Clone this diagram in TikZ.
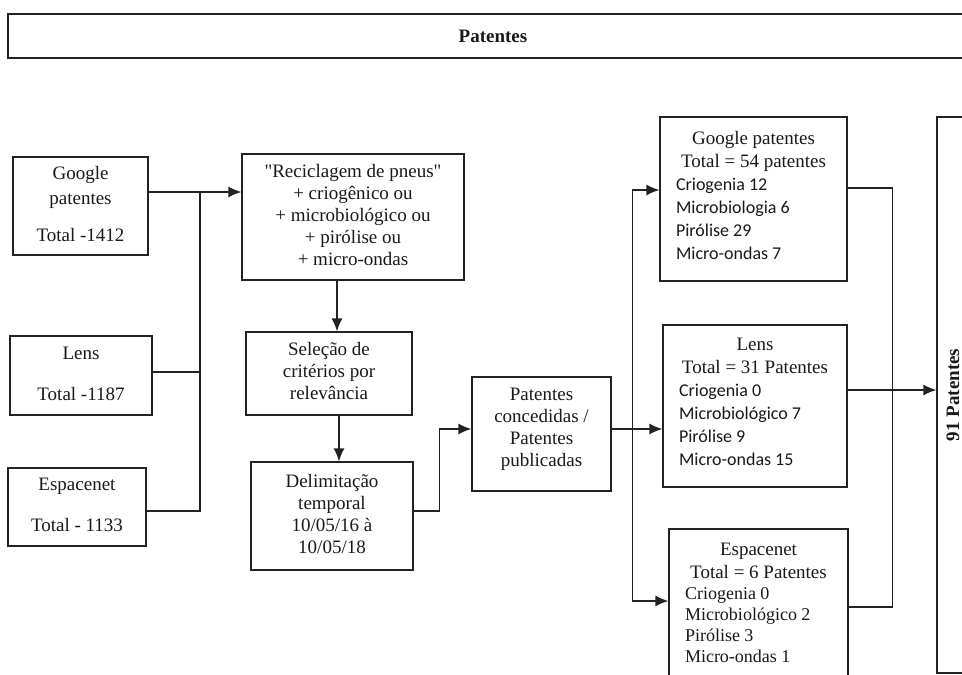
\documentclass[tikz,border=0pt]{standalone}
\usepackage{fontspec}
\setmainfont{Liberation Serif}[Ligatures=TeXOff]
\newfontfamily\calibri{Carlito}
\usepackage{graphicx}
\usepackage{tikz}
\usetikzlibrary{arrows.meta,positioning}
\usepackage{xcolor}
\definecolor{ptline}{RGB}{35,35,35}
\definecolor{pttext}{RGB}{25,25,25}
\setlength{\parindent}{0pt}
\setlength{\parskip}{0pt}
\newcommand{\fonteT}{\fontsize{19}{22}\selectfont}
\newcommand{\fonteL}{\fontsize{19}{23}\selectfont\spaceskip=0pt\xspaceskip=0pt}
\newcommand{\fonteC}{\calibri\fontsize{18}{23}\selectfont}
\newcommand{\desce}[1]{\rule[-#1]{0pt}{#1}}
\tikzstyle{arrow} = [line width=1.3pt, -{Latex[length=13pt,width=11pt]}, color=ptline]
\tikzstyle{line} = [line width=1.3pt, color=ptline]
\tikzstyle{caixa} = [rectangle, draw=ptline, line width=1.3pt, inner sep=0pt, text centered, text=pttext, font=\fonteT]
\tikzstyle{lista} = [caixa, inner xsep=16pt, inner ysep=0pt, align=left, font=\fonteL]

\begin{document}
\begin{tikzpicture}[x=1pt, y=-1pt]
\useasboundingbox (0,0) rectangle (962,675);
\clip (0,0) rectangle (962,675);

% Title bar
\node (titulo) [caixa, minimum width=970pt, minimum height=44pt, line width=1.6pt] at (493,36) {\textbf{Patentes}};

% Databases
\node (google) [caixa, minimum width=135pt, minimum height=98pt] at (80.5,206) {
\begin{tabular}{c}
Google\\[3pt]
patentes\\[15pt]
Total -1412
\end{tabular}
};

\node (lens) [caixa, minimum width=142pt, minimum height=79pt] at (81,375.5) {
\begin{tabular}{c}
Lens\\[19pt]
Total -1187
\end{tabular}
};

\node (espacenet) [caixa, minimum width=138pt, minimum height=78pt] at (77,507) {
\begin{tabular}{c}
Espacenet\\[19pt]
Total - 1133
\end{tabular}
};

% Search steps
\node (busca) [caixa, minimum width=222pt, minimum height=126pt] at (353,217) {
\begin{tabular}{c}
"Reciclagem de pneus"\\
+ criogênico ou\\
+ microbiológico ou\\
+ pirólise ou\\
+ micro-ondas
\end{tabular}
};

\node (selecao) [caixa, minimum width=166pt, minimum height=83pt] at (329,373.5) {
\begin{tabular}{c}
Seleção de\\
critérios por\\
relevância
\end{tabular}
};

\node (delim) [caixa, minimum width=162pt, minimum height=108pt] at (332,516) {
\begin{tabular}{c}
Delimitação\\
temporal\\
10/05/16 à\\
10/05/18
\end{tabular}
};

\node (concedidas) [caixa, minimum width=139pt, minimum height=114pt] at (541.5,434) {
\begin{tabular}{c}
Patentes\\
concedidas /\\
Patentes\\
publicadas\desce{16pt}
\end{tabular}
};

% Results per database
\node (googleR) [lista, text width=155pt, minimum height=164pt] at (753.5,199) {
\spaceskip=0pt\xspaceskip=0pt
{\centering Google patentes\\Total = 54 patentes\par}
\fonteC Criogenia 12\\Microbiologia 6\\Pirólise 29\\Micro-ondas 7\desce{8pt}
};

\node (lensR) [lista, text width=152pt, minimum height=162pt] at (755,406) {
\spaceskip=0pt\xspaceskip=0pt
{\centering Lens\\Total = 31 Patentes\par}
\fonteC Criogenia 0\\Microbiológico 7\\Pirólise 9\\Micro-ondas 15\desce{8pt}
};

\node (espacenetR) [lista, text width=147pt, minimum height=148pt] at (758.5,603) {
\spaceskip=0pt\xspaceskip=0pt
{\centering Espacenet\\Total = 6 Patentes\par}
\fontsize{18}{21}\selectfont Criogenia 0\\Microbiológico 2\\Pirólise 3\\Micro-ondas 1\par
};

\node (total) [caixa, minimum width=32pt, minimum height=556pt] at (953,395) {\rotatebox{90}{\textbf{91 Patentes}}};

% Databases to search string
\coordinate (bus) at (200,192);
\draw[arrow] ([yshift=14pt]google.east) -- ([yshift=14pt]google.east -| busca.west);
\draw[line] ([yshift=3.5pt]lens.east) -- ([yshift=3.5pt]lens.east -| bus);
\draw[line] ([yshift=-4pt]espacenet.east) -| (bus);

% Filtering steps
\draw[arrow] ([xshift=8pt]selecao.north |- busca.south) -- ([xshift=8pt]selecao.north);
\draw[arrow] ([xshift=7pt]delim.north |- selecao.south) -- ([xshift=7pt]delim.north);
\draw[arrow] ([yshift=5pt]delim.east) -- ++(26,0) |- ([yshift=5pt]concedidas.west);

% Split to results
\draw[arrow] ([yshift=5pt]concedidas.east) -- ([yshift=5pt]concedidas.east -| lensR.west);
\draw[arrow] ([yshift=5pt]concedidas.east) -- ++(21,0) |- ([yshift=9pt]googleR.west);
\draw[arrow] ([yshift=5pt]concedidas.east) -- ++(21,0) |- ([yshift=2pt]espacenetR.west);

% Results to total
\draw[line] ([yshift=11pt]googleR.east) -- ++(45,0) |- ([yshift=-4pt]espacenetR.east);
\draw[arrow] ([yshift=16pt]lensR.east) -- ([yshift=16pt]lensR.east -| total.west);
\end{tikzpicture}
\end{document}
